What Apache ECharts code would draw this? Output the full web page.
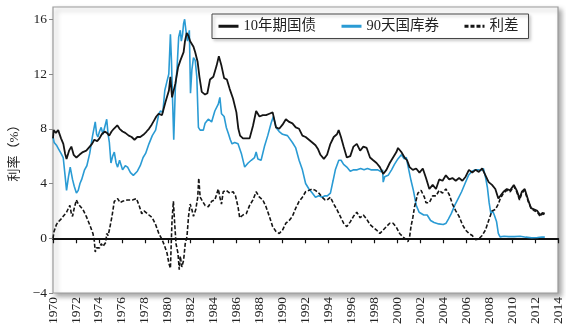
<!DOCTYPE html>
<html><head><meta charset="utf-8">
<script src="https://cdn.jsdelivr.net/npm/echarts@6/dist/echarts.min.js"></script>
<style>html,body{margin:0;padding:0;background:#fff}#c{width:566px;height:329px}</style>
</head><body><div id="c"></div><script>
// ---- data ----
const seriesNames = ['10年期国债', '90天国库券', '利差'];
const yTickValues = [-4, 0, 4, 8, 12, 16];

const tenYearT = [1970.0,1970.05,1970.25,1970.45,1970.7,1970.9,1971.05,1971.18,1971.4,1971.6,1971.8,1972.04,1972.3,1972.6,1972.9,1973.2,1973.4,1973.6,1973.85,1974.05,1974.25,1974.5,1974.7,1974.9,1975.1,1975.3,1975.6,1975.8,1976.06,1976.3,1976.6,1976.85,1977.1,1977.35,1977.6,1977.93,1978.15,1978.36,1978.6,1978.8,1979.0,1979.2,1979.5,1979.8,1980.1,1980.23,1980.37,1980.52,1980.66,1980.9,1981.1,1981.38,1981.5,1981.65,1981.8,1981.95,1982.24,1982.39,1982.6,1982.76,1982.96,1983.25,1983.45,1983.68,1983.97,1984.25,1984.45,1984.68,1984.91,1985.15,1985.4,1985.69,1985.98,1986.15,1986.3,1986.55,1986.84,1987.13,1987.42,1987.7,1987.99,1988.28,1988.56,1988.85,1989.14,1989.43,1989.71,1990.0,1990.29,1990.58,1990.86,1991.15,1991.44,1991.73,1992.01,1992.3,1992.59,1992.87,1993.1,1993.3,1993.6,1993.88,1994.17,1994.46,1994.74,1994.89,1995.09,1995.32,1995.6,1995.9,1996.18,1996.47,1996.76,1997.04,1997.33,1997.62,1997.9,1998.19,1998.48,1998.77,1998.91,1999.05,1999.34,1999.63,1999.92,2000.06,2000.35,2000.63,2000.85,2001.07,2001.35,2001.64,2001.93,2002.22,2002.5,2002.79,2003.08,2003.37,2003.65,2003.94,2004.23,2004.52,2004.8,2005.09,2005.38,2005.67,2005.95,2006.24,2006.53,2006.81,2007.1,2007.39,2007.68,2007.96,2008.25,2008.54,2008.8,2008.97,2009.25,2009.54,2009.83,2010.15,2010.4,2010.65,2010.85,2011.1,2011.4,2011.65,2011.95,2012.2,2012.45,2012.65,2012.85];
const tenYearV = [7.3,7.9,7.7,7.9,7.3,6.9,6.2,5.8,6.4,6.7,6.1,5.9,6.1,6.3,6.4,6.7,6.9,7.2,7.1,7.3,7.6,7.8,7.7,7.5,7.8,8.0,8.25,8.0,7.8,7.7,7.5,7.4,7.2,7.4,7.4,7.6,7.8,8.0,8.3,8.6,8.9,9.1,9.0,9.95,10.8,11.8,10.3,10.2,11.3,12.5,13.0,13.6,14.4,15.0,14.8,14.4,14.0,13.6,12.9,11.8,10.7,10.5,10.6,11.6,11.8,12.6,13.3,12.6,11.7,11.6,10.9,10.2,9.2,8.0,7.5,7.3,7.3,7.3,8.2,9.3,8.9,9.0,9.0,9.1,9.2,8.1,8.0,8.3,8.7,8.5,8.4,8.1,8.0,7.5,7.4,7.2,7.0,6.8,6.5,6.1,5.8,6.1,6.9,7.4,7.6,7.9,7.4,6.7,5.9,6.0,6.7,6.9,6.4,6.7,6.6,5.9,5.7,5.5,5.2,4.7,4.6,5.0,5.5,5.9,6.3,6.6,6.3,5.9,5.7,5.2,5.0,5.1,4.8,5.1,4.4,3.6,3.9,3.6,4.3,4.2,4.6,4.3,4.4,4.2,4.4,4.2,4.5,5.0,4.8,5.0,4.85,5.1,4.6,4.1,3.9,3.6,2.9,3.0,3.4,3.6,3.5,3.9,3.5,2.9,3.4,3.6,2.8,2.2,2.1,2.0,1.7,1.85,1.8];

const billT = [1970.0,1970.1,1970.3,1970.5,1970.7,1970.89,1971.05,1971.18,1971.35,1971.5,1971.7,1971.85,1972.04,1972.2,1972.35,1972.5,1972.75,1972.95,1973.2,1973.45,1973.68,1973.8,1973.91,1974.05,1974.2,1974.35,1974.48,1974.68,1974.8,1974.91,1975.05,1975.2,1975.34,1975.5,1975.63,1975.8,1976.06,1976.3,1976.5,1976.75,1977.0,1977.15,1977.35,1977.6,1977.85,1978.07,1978.36,1978.65,1978.94,1979.22,1979.37,1979.57,1979.74,1979.94,1980.09,1980.23,1980.32,1980.43,1980.52,1980.66,1980.8,1980.95,1981.09,1981.18,1981.29,1981.38,1981.47,1981.58,1981.72,1981.88,1981.98,1982.1,1982.24,1982.39,1982.53,1982.67,1982.82,1983.1,1983.25,1983.53,1983.82,1984.1,1984.4,1984.54,1984.68,1984.91,1985.1,1985.3,1985.45,1985.6,1985.83,1986.12,1986.41,1986.7,1987.0,1987.27,1987.56,1987.7,1987.85,1988.13,1988.42,1988.71,1989.0,1989.2,1989.43,1989.71,1990.0,1990.43,1990.86,1991.15,1991.44,1991.73,1992.01,1992.3,1992.59,1992.87,1993.16,1993.45,1993.7,1993.9,1994.17,1994.4,1994.6,1994.9,1995.1,1995.32,1995.6,1995.9,1996.2,1996.5,1996.8,1997.1,1997.4,1997.7,1998.0,1998.3,1998.6,1998.72,1998.77,1998.9,1999.2,1999.5,1999.75,2000.05,2000.35,2000.6,2000.78,2001.0,2001.2,2001.4,2001.65,2001.9,2002.3,2002.6,2002.9,2003.2,2003.6,2004.0,2004.25,2004.45,2004.7,2005.0,2005.3,2005.6,2005.9,2006.2,2006.5,2006.8,2007.05,2007.3,2007.5,2007.7,2007.85,2008.0,2008.15,2008.3,2008.45,2008.65,2008.8,2008.95,2009.3,2009.7,2010.2,2010.7,2011.2,2011.7,2012.2,2012.6,2012.85];
const billV = [7.4,7.0,6.8,6.5,6.2,5.9,4.6,3.5,4.5,5.2,4.3,3.8,3.3,3.5,4.0,4.3,5.0,5.3,6.2,7.5,8.5,7.6,7.4,7.8,8.1,7.6,7.5,8.7,7.6,7.0,5.5,6.0,6.3,5.5,5.2,5.7,5.0,5.3,5.2,4.8,4.6,4.5,4.9,5.3,5.9,6.2,6.9,7.5,7.9,9.1,9.3,9.2,10.8,11.5,12.0,14.9,13.0,9.8,7.2,11.0,12.3,14.7,15.2,14.4,14.9,15.7,16.0,15.2,14.4,15.2,10.6,12.3,13.2,13.0,11.8,8.1,7.9,7.9,8.4,8.7,8.5,9.3,9.8,10.3,9.1,8.9,8.1,7.6,7.2,6.9,7.0,6.9,6.2,5.2,5.5,5.7,5.9,6.3,5.8,5.7,6.7,7.5,8.4,8.9,8.1,7.8,7.6,7.5,7.0,6.6,5.7,5.0,4.0,3.6,3.3,3.0,3.1,3.0,3.1,3.1,3.3,4.2,5.0,5.7,5.7,5.4,5.2,4.9,5.0,5.0,5.1,5.0,5.1,5.0,5.0,5.0,4.85,5.0,4.1,4.5,4.6,5.0,5.4,5.8,6.1,5.8,5.9,5.0,4.2,3.5,2.4,1.9,1.7,1.7,1.3,1.15,1.05,1.0,1.1,1.4,1.8,2.4,2.9,3.4,4.0,4.6,4.9,5.0,5.0,4.95,5.1,4.4,3.7,2.6,1.8,2.0,1.7,1.2,0.35,0.1,0.15,0.12,0.12,0.15,0.08,0.04,0.06,0.09,0.08];

const spreadT = [1970.0,1970.09,1970.3,1970.46,1970.7,1970.89,1971.05,1971.18,1971.35,1971.47,1971.6,1971.7,1971.85,1972.04,1972.2,1972.33,1972.61,1972.9,1973.19,1973.48,1973.6,1973.68,1973.8,1973.91,1974.05,1974.2,1974.35,1974.48,1974.6,1974.68,1974.8,1974.91,1975.14,1975.34,1975.63,1975.85,1976.06,1976.49,1976.93,1977.27,1977.5,1977.73,1977.93,1978.1,1978.36,1978.65,1978.94,1979.22,1979.51,1979.74,1979.94,1980.09,1980.23,1980.37,1980.49,1980.6,1980.72,1980.89,1981.0,1981.09,1981.23,1981.38,1981.52,1981.67,1981.81,1981.95,1982.1,1982.24,1982.44,1982.61,1982.7,1982.82,1982.96,1983.25,1983.53,1983.82,1984.1,1984.4,1984.54,1984.68,1984.83,1985.1,1985.4,1985.69,1985.9,1986.12,1986.27,1986.55,1986.84,1987.13,1987.42,1987.7,1987.99,1988.28,1988.56,1988.85,1989.14,1989.43,1989.71,1990.0,1990.29,1990.58,1990.86,1991.15,1991.44,1991.73,1992.01,1992.3,1992.59,1992.87,1993.16,1993.45,1993.7,1993.88,1994.17,1994.46,1994.74,1995.03,1995.32,1995.6,1995.9,1996.18,1996.47,1996.76,1997.04,1997.33,1997.62,1997.9,1998.19,1998.48,1998.77,1999.05,1999.34,1999.63,1999.92,2000.2,2000.49,2000.78,2000.92,2001.07,2001.2,2001.35,2001.5,2001.79,2002.07,2002.36,2002.5,2002.79,2003.08,2003.37,2003.65,2003.94,2004.23,2004.52,2004.8,2005.09,2005.38,2005.67,2005.95,2006.24,2006.53,2006.81,2007.1,2007.39,2007.68,2007.96,2008.25,2008.54,2008.8,2008.97,2009.25,2009.54,2009.83,2010.15,2010.4,2010.65,2010.85,2011.1,2011.4,2011.65,2011.95,2012.2,2012.45,2012.65,2012.85];
const spreadV = [0.0,0.5,1.0,1.2,1.4,1.6,1.7,1.9,2.2,2.4,1.8,1.6,2.2,2.8,2.5,2.4,2.1,1.6,1.0,0.35,-0.2,-1.0,-0.7,-0.6,-0.7,-0.4,-0.6,-0.5,-0.3,0.35,0.2,0.6,1.6,2.7,2.9,2.6,2.7,2.8,2.8,2.9,2.4,1.8,2.0,2.1,1.7,1.5,1.0,0.35,-0.1,-0.6,-1.1,-1.8,-2.2,1.3,2.7,1.1,-0.4,-1.1,-2.3,-1.3,-2.1,-1.6,-0.4,0.1,1.6,2.5,2.1,1.6,2.1,3.0,4.4,3.0,2.8,2.4,2.3,2.7,2.8,3.6,3.0,2.5,3.4,3.5,3.3,3.4,3.1,2.3,1.5,1.7,1.8,2.4,2.8,3.4,3.0,2.8,2.3,1.6,0.85,0.5,0.35,0.6,1.1,1.3,1.6,2.2,2.7,3.0,3.4,3.5,3.6,3.5,3.3,3.0,2.8,2.8,3.0,2.5,2.1,1.6,1.1,0.85,1.2,1.6,1.9,1.5,1.7,1.4,1.0,0.8,0.6,0.35,0.6,0.85,1.1,1.1,0.8,0.35,0.1,-0.1,-0.25,0.1,0.9,1.5,2.3,3.3,3.5,3.0,2.6,2.6,3.1,3.1,3.5,3.3,3.6,3.2,2.5,2.0,1.6,1.0,0.6,0.35,0.2,-0.1,-0.05,0.2,0.6,1.3,2.0,2.1,2.5,2.9,3.3,3.5,3.4,3.8,3.4,2.8,3.3,3.5,2.7,2.2,2.0,1.9,1.6,1.8,1.7];

const xMin = 1970, xMax = 2014, xStep = 2;

function pairs(t, v) { return t.map((x, i) => [x, v[i]]); }

const serif = "'Liberation Serif','Noto Sans CJK SC',serif";
const chart = echarts.init(document.getElementById('c'), null, {renderer: 'canvas'});
chart.setOption({
  animation: false,
  backgroundColor: '#fff',
  grid: {
    left: 48, right: 8, top: 7, bottom: 36, show: true,
    borderColor: '#9a9a9a', borderWidth: 1.2, backgroundColor: '#fff',
    shadowColor: 'rgba(0,0,0,0.35)', shadowBlur: 5, shadowOffsetX: 3, shadowOffsetY: 3
  },
  legend: {
    left: 212, top: 14, padding: [5, 10, 5, 5], itemGap: 24, itemWidth: 20, itemHeight: 14,
    backgroundColor: '#fff', borderColor: '#444', borderWidth: 1,
    shadowColor: 'rgba(0,0,0,0.25)', shadowBlur: 3, shadowOffsetX: 2, shadowOffsetY: 2,
    textStyle: {fontFamily: serif, fontSize: 14.5, color: '#222'},
    itemStyle: {opacity: 0},
    lineStyle: {width: 3},
    data: seriesNames
  },
  xAxis: [{
    type: 'value', min: xMin, max: xMax, interval: xStep, position: 'bottom',
    axisLine: {show: false, onZero: false}, axisTick: {show: false}, splitLine: {show: false},
    axisLabel: {rotate: 90, margin: 4, fontFamily: serif, fontSize: 13.5, color: '#222', formatter: v => String(v)}
  }, {
    type: 'value', min: xMin, max: xMax, interval: xStep, position: 'top',
    axisLine: {show: true, onZero: true, onZeroAxisIndex: 0, lineStyle: {color: '#111', width: 2}},
    axisTick: {show: true, inside: true, length: 5, lineStyle: {color: '#111', width: 1.2}},
    axisLabel: {show: false}, splitLine: {show: false}
  }],
  yAxis: {
    type: 'value', min: -4, max: 16.9, interval: 4,
    name: '利率（%）', nameLocation: 'middle', nameGap: 32, nameRotate: 90,
    nameTextStyle: {fontFamily: serif, fontSize: 13, color: '#222'},
    axisLine: {show: false},
    axisTick: {show: true, length: 4, lineStyle: {color: '#888'}, customValues: yTickValues},
    axisLabel: {margin: 6, fontFamily: serif, fontSize: 13.5, color: '#222', customValues: yTickValues,
      formatter: v => (yTickValues.indexOf(v) < 0 ? '' : String(v).replace('-', '\u2212'))},
    splitLine: {show: false}
  },
  series: [{
    name: seriesNames[0], type: 'line', symbol: 'none', xAxisIndex: 0, z: 4,
    data: pairs(tenYearT, tenYearV),
    lineStyle: {color: '#151515', width: 1.8}, itemStyle: {color: '#151515'}
  }, {
    name: seriesNames[1], type: 'line', symbol: 'none', xAxisIndex: 0, z: 3,
    data: pairs(billT, billV),
    lineStyle: {color: '#2a9bd4', width: 1.6}, itemStyle: {color: '#2a9bd4'}
  }, {
    name: seriesNames[2], type: 'line', symbol: 'none', xAxisIndex: 0, z: 5,
    data: pairs(spreadT, spreadV),
    lineStyle: {color: '#151515', width: 1.6, type: [4, 2]}, itemStyle: {color: '#151515'}
  }]
});
</script></body></html>
